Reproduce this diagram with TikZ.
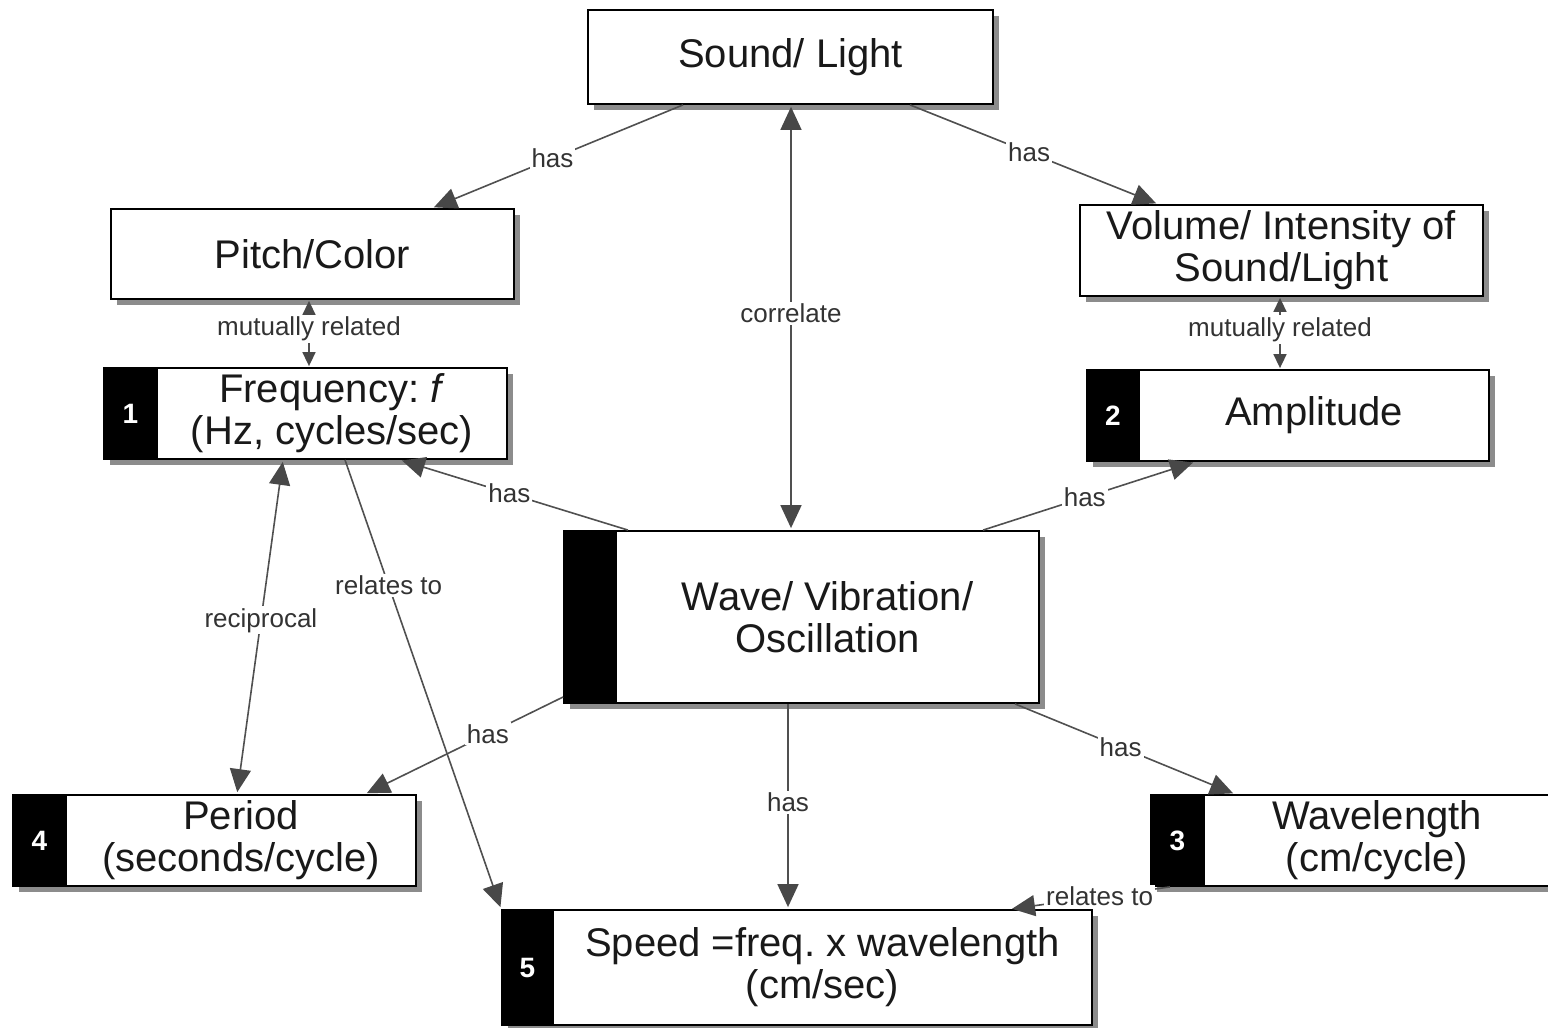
\documentclass[tikz,border=0pt]{standalone}
\usepackage{fontspec}
\setmainfont{Liberation Sans}
\usetikzlibrary{arrows.meta,shadows}
\definecolor{lnc}{HTML}{505050}
\definecolor{tipc}{HTML}{484848}
\definecolor{shd}{HTML}{8C8C8C}
\frenchspacing
\begin{document}
\begin{tikzpicture}[x=1pt,y=-1pt,
  myshadow/.style={drop shadow={shadow xshift=6pt, shadow yshift=-6pt, fill=shd, opacity=1}},
  box/.style={draw=black, line width=1.8pt, fill=white, align=center, inner sep=0pt,
    font=\fontsize{40}{42}\selectfont, text=black!90, myshadow},
  band/.style={draw=black, line width=1.8pt, fill=black, text=white, inner sep=0pt,
    font=\fontsize{28}{30}\selectfont\bfseries, myshadow},
  conn/.style={draw=lnc, line width=1.6pt, -{Triangle[length=23pt,width=21pt,color=tipc]}, shorten >=2pt},
  both/.style={draw=lnc, line width=1.6pt, {Triangle[length=23pt,width=21pt,color=tipc]}-{Triangle[length=23pt,width=21pt,color=tipc]}, shorten >=2pt, shorten <=2pt},
  bothsmall/.style={draw=lnc, line width=1.6pt, {Triangle[length=14pt,width=13pt,color=tipc]}-{Triangle[length=14pt,width=13pt,color=tipc]}, shorten >=1pt, shorten <=1pt},
  lbl/.style={fill=white, inner sep=2pt, font=\fontsize{26}{28}\selectfont, text=black!80}
]
\useasboundingbox (0,0) rectangle (1548,1028);
\clip (0,0) rectangle (1548,1028);

% boxes
\node[box, minimum width=405pt, minimum height=94pt] (sound) at (790.5,57) {Sound/ Light};
\node[box, minimum width=403pt, minimum height=90pt] (pitch) at (312.5,254) {Pitch/Color};
\node[box, minimum width=403pt, minimum height=91pt] (volume) at (1281.5,250.5) {Volume/ Intensity of\\Sound/Light};

\node[band, minimum width=53pt, minimum height=91pt] (freqn) at (130.5,413.5) {1};
\node[box, minimum width=350pt, minimum height=91pt] (freq) at (332,413.5) {Frequency: \textit{f}\\(Hz, cycles/sec)};

\node[band, minimum width=52pt, minimum height=91pt] (ampn) at (1113,415.5) {2};
\node[box, minimum width=350pt, minimum height=91pt] (amp) at (1314,415.5) {Amplitude};

\node[band, minimum width=52pt, minimum height=172pt] (waven) at (590,617) {};
\node[box, minimum width=423pt, minimum height=172pt] (wave) at (827.5,617) {Wave/ Vibration/\\Oscillation};

\node[band, minimum width=53pt, minimum height=91pt] (periodn) at (39.5,840.5) {4};
\node[box, minimum width=350pt, minimum height=91pt] (period) at (241,840.5) {Period\\(seconds/cycle)};

\node[band, minimum width=53pt, minimum height=91pt] (wln) at (1177.5,840.5) {3};
\node[box, minimum width=346pt, minimum height=91pt] (wl) at (1377,840.5) {Wavelength\\(cm/cycle)};

\node[band, minimum width=51pt, minimum height=115pt] (speedn) at (527.5,967.5) {5};
\node[box, minimum width=539pt, minimum height=115pt] (speed) at (822.5,967.5) {Speed =freq. x wavelength\\(cm/sec)};

% connectors
\draw[conn] ([xshift=-107.5pt]sound.south) -- node[lbl,pos=0.52]{has} ([xshift=119.5pt]pitch.north);
\draw[conn] ([xshift=119.5pt]sound.south) -- node[lbl,pos=0.48]{has} ([xshift=-123.5pt]volume.north);
\draw[both] ([xshift=0.5pt]sound.south) -- node[lbl,pos=0.49]{correlate} ([xshift=-36.5pt]wave.north);
\draw[bothsmall] ([xshift=-3.5pt]pitch.south) -- node[lbl,pos=0.43]{mutually related} ([xshift=-23pt]freq.north);
\draw[bothsmall] ([xshift=-1.5pt]volume.south) -- node[lbl,pos=0.45]{mutually related} ([xshift=-34pt]amp.north);
\draw[conn] ([xshift=-199.5pt]wave.north) -- node[lbl,pos=0.52]{has} ([xshift=68pt]freq.south);
\draw[conn] ([xshift=155.5pt]wave.north) -- node[lbl,pos=0.48]{has} ([xshift=-119pt]amp.south);
\draw[both] ([xshift=-49pt]freq.south) -- node[lbl,pos=0.48]{reciprocal} ([xshift=-4pt]period.north);
\draw[conn] ([xshift=13pt]freq.south) -- node[lbl,pos=0.28]{relates to} (speedn.north west);
\draw[conn] ([yshift=-80pt]waven.west) -- node[lbl,pos=0.38]{has} ([xshift=124pt]period.north);
\draw[conn] ([xshift=-39.5pt]wave.south) -- node[lbl,pos=0.48]{has} ([xshift=-34.5pt]speed.north);
\draw[conn] ([xshift=187.5pt]wave.south) -- node[lbl,pos=0.48]{has} ([xshift=-142pt]wl.north);
\draw[conn] ([xshift=-7.5pt]wln.south) -- node[lbl,pos=0.44]{relates to} ([xshift=187.5pt]speed.north);
\end{tikzpicture}
\end{document}
